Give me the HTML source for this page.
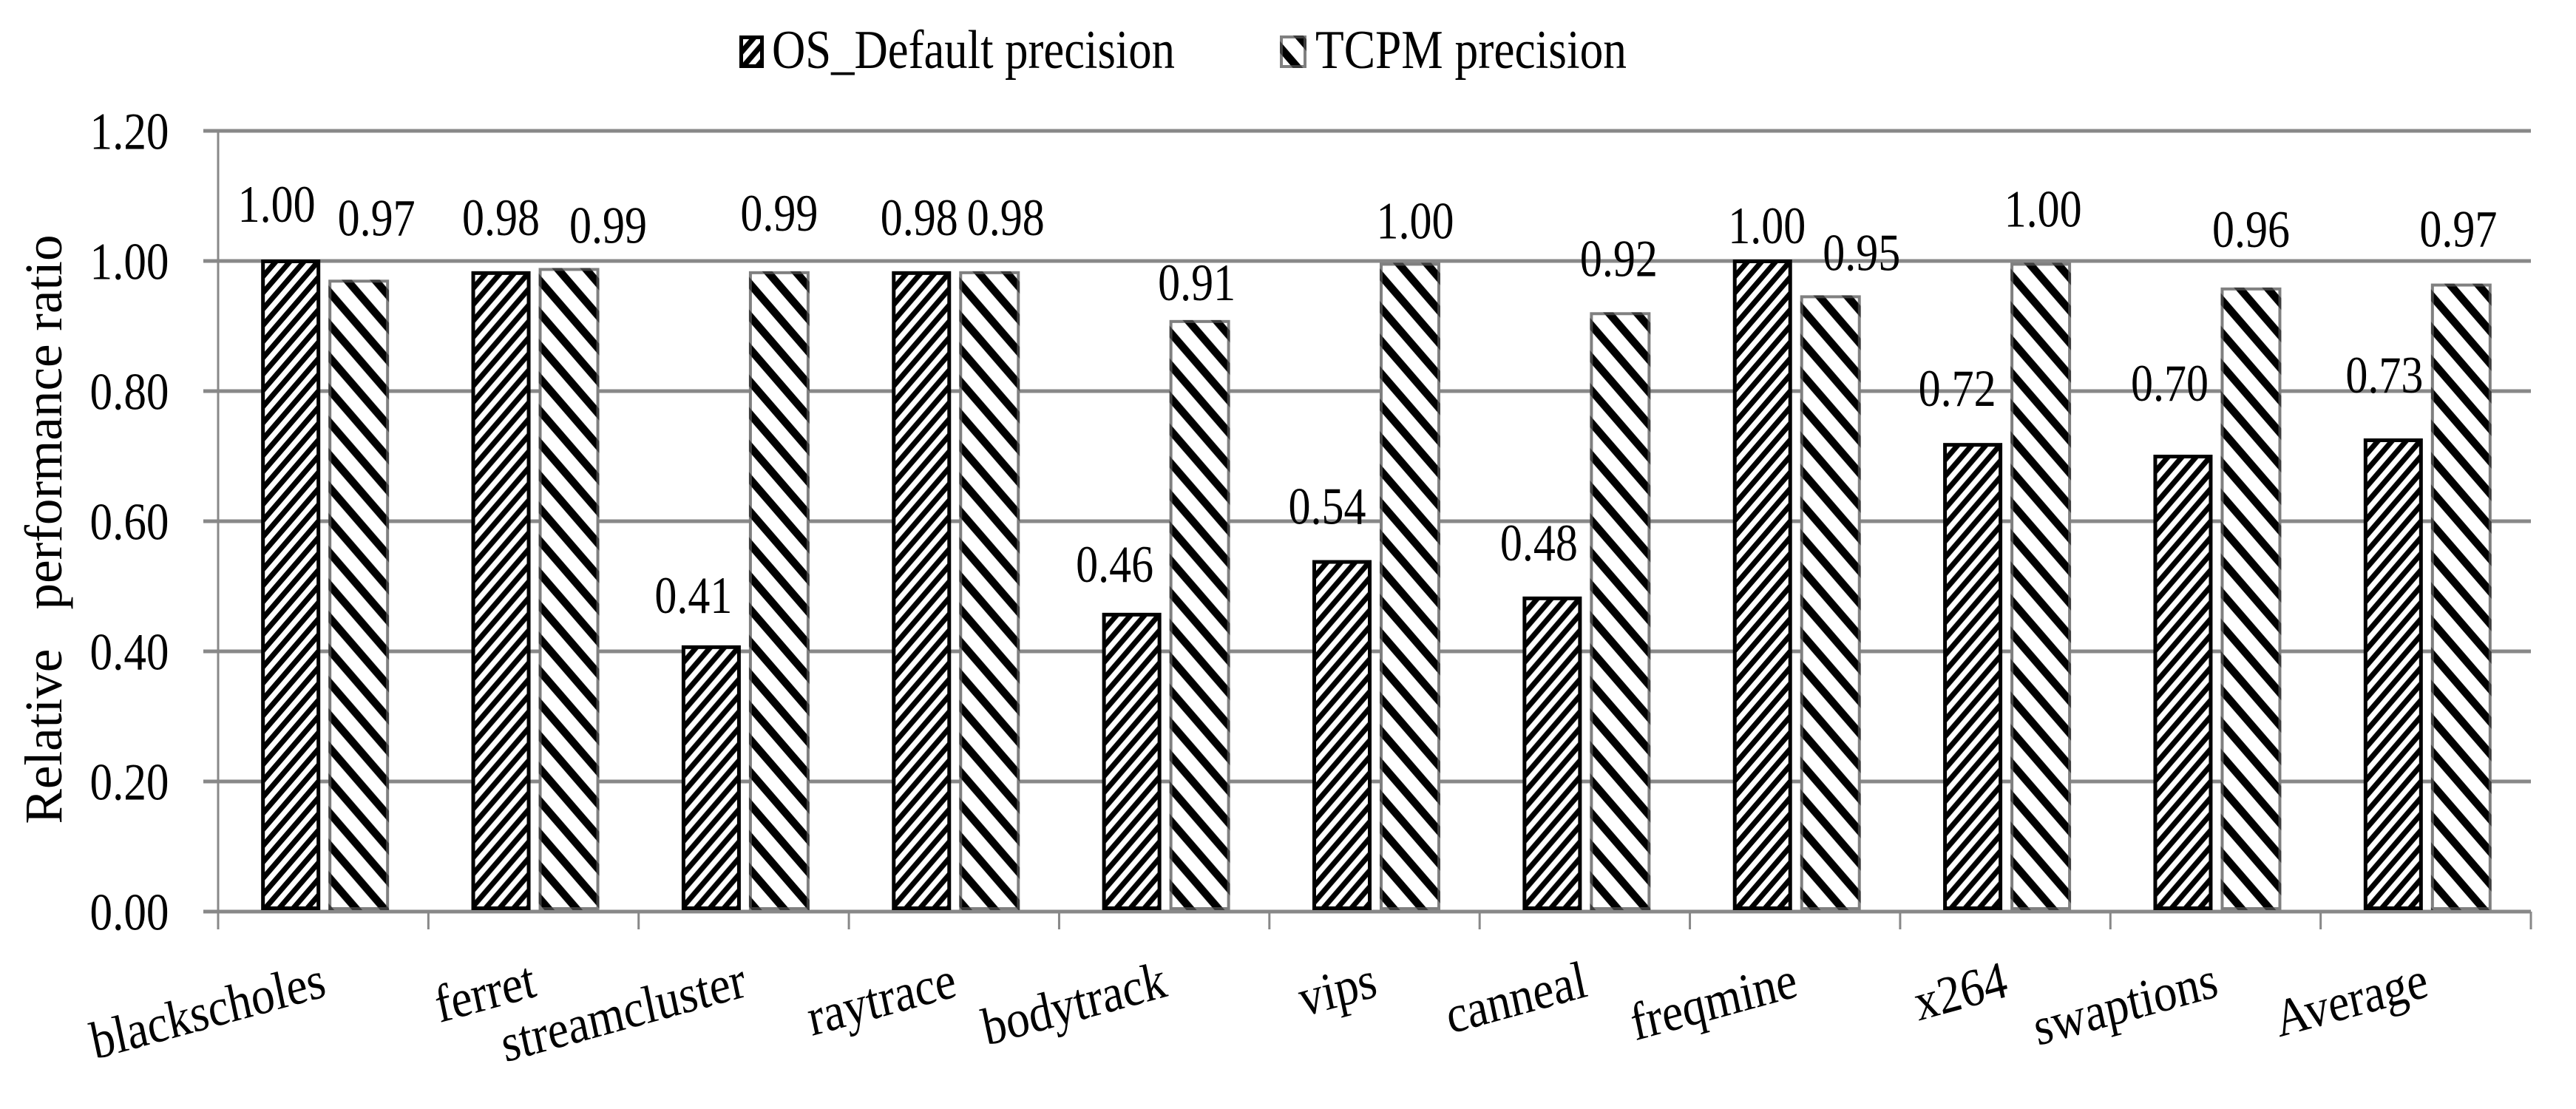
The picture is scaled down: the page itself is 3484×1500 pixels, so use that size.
<!DOCTYPE html>
<html lang="en">
<head>
<meta charset="utf-8">
<title>Relative performance ratio chart</title>
<style>
  html, body { margin: 0; padding: 0; background: #fff; }
  svg { display: block; }
  text { font-family: "Liberation Serif", "Times New Roman", serif; fill: #000; white-space: pre; }
</style>
</head>
<body>
<svg id="chart" xmlns="http://www.w3.org/2000/svg" width="3484" height="1500" viewBox="0 0 3484 1500">
  <defs>
    <pattern id="osFill" patternUnits="userSpaceOnUse" width="19" height="22" patternTransform="translate(12.8 0)">
      <rect width="19" height="22" fill="#000"/>
      <path d="M-19 22L19 -22M0 22L19 0M0 22L38 -22M0 44L38 0" stroke="#fff" stroke-width="7.2" fill="none"/>
    </pattern>
    <pattern id="tcpmFill" patternUnits="userSpaceOnUse" width="38" height="44" patternTransform="translate(24.6 0)">
      <rect width="38" height="44" fill="#fff"/>
      <path d="M-38 -44L76 88M-38 0L38 88M0 -44L76 44" stroke="#000" stroke-width="10.5" fill="none"/>
    </pattern>
    <pattern id="tcpmEdge" patternUnits="userSpaceOnUse" width="38" height="44" patternTransform="translate(24.6 0)">
      <rect width="38" height="44" fill="#808080"/>
      <path d="M-38 -44L76 88M-38 0L38 88M0 -44L76 44" stroke="#3c3c3c" stroke-width="10.5" fill="none"/>
    </pattern>
  </defs>
  <g id="grid"></g>
  <g id="bars"></g>
  <g id="labels"></g>

  <g>
    <g>
      <g transform="translate(1000 48)">
        <rect x="2.5" y="2.5" width="28" height="39" fill="url(#osFill)" stroke="#000" stroke-width="5"/>
      </g>
      <text x="1044" y="92" font-size="74" textLength="545" lengthAdjust="spacingAndGlyphs">OS_Default precision</text>
    </g>
    <g>
      <g transform="translate(1731 48)">
        <rect x="2" y="2" width="32" height="40" fill="url(#tcpmFill)" stroke="url(#tcpmEdge)" stroke-width="4"/>
      </g>
      <text x="1779" y="92" font-size="74" textLength="421" lengthAdjust="spacingAndGlyphs">TCPM precision</text>
    </g>
  </g>

  <text transform="translate(83 716) rotate(-90)" text-anchor="middle" font-size="72" textLength="797" lengthAdjust="spacingAndGlyphs">Relative   performance ratio</text>
</svg>
<script>
// ----- chart data -----
const categories = ['blackscholes', 'ferret', 'streamcluster', 'raytrace', 'bodytrack', 'vips', 'canneal', 'freqmine', 'x264', 'swaptions', 'Average'];
const osDefaultValues = [1.00, 0.982, 0.407, 0.982, 0.457, 0.538, 0.482, 1.00, 0.718, 0.700, 0.725];
const tcpmValues = [0.969, 0.987, 0.982, 0.982, 0.907, 0.995, 0.919, 0.945, 0.995, 0.957, 0.963];
const osDefaultPrinted = ['1.00', '0.98', '0.41', '0.98', '0.46', '0.54', '0.48', '1.00', '0.72', '0.70', '0.73'];
const tcpmPrinted = ['0.97', '0.99', '0.99', '0.98', '0.91', '1.00', '0.92', '0.95', '1.00', '0.96', '0.97'];
const yTickValues = [0, 0.2, 0.4, 0.6, 0.8, 1.0, 1.2];
const yTickLabels = ['0.00', '0.20', '0.40', '0.60', '0.80', '1.00', '1.20'];

(function () {
  const NS = 'http://www.w3.org/2000/svg';
  const plot = { left: 295, right: 3423, top: 177, bottom: 1233, max: 1.2 };
  const yScale = function (v) { return plot.bottom - (v / plot.max) * (plot.bottom - plot.top); };
  const bandWidth = (plot.right - plot.left) / categories.length;
  const bandLeft = function (i) { return plot.left + bandWidth * i; };
  const bandCentre = function (i) { return bandLeft(i) + bandWidth / 2; };

  // Hand-placed data label offsets from each bar's centre/top, as in the source figure.
  const osLabelDx = [-19, 0, -24, -3, -23, -20, -18, 6, -21, -18, -12];
  const osLabelDy = [-51, -49, -44, -49, -42, -49, -49, -22, -50, -73, -62];
  const tcpmLabelDx = [24, 53, 0, 22, -4, 7, -2, 42, 3, 0, -4];
  const tcpmLabelDy = [-60, -34, -55, -49, -27, -33, -49, -34, -49, -55, -50];

  const grid = document.getElementById('grid');
  const bars = document.getElementById('bars');
  const labels = document.getElementById('labels');

  // gridlines and y tick labels
  yTickValues.forEach(function (v, i) {
    const line = document.createElementNS(NS, 'rect');
    
    
    line.setAttribute('x', 275);
    line.setAttribute('y', yScale(v) - 2.5);
    line.setAttribute('width', plot.right - 275);
    line.setAttribute('height', 5);
    line.setAttribute('fill', '#888888');
    grid.appendChild(line);

    const tick = document.createElementNS(NS, 'text');
    
    
    tick.setAttribute('x', 175);
    tick.setAttribute('y', yScale(v) + 24.5);
    tick.setAttribute('text-anchor', 'middle');
    tick.setAttribute('font-size', '71');
    tick.setAttribute('textLength', '107');
    tick.setAttribute('lengthAdjust', 'spacingAndGlyphs');
    tick.textContent = yTickLabels[i];
    labels.appendChild(tick);
  });

  // y axis line
  const yAxis = document.createElementNS(NS, 'rect');
  
  
  yAxis.setAttribute('x', plot.left - 1.5);
  yAxis.setAttribute('y', plot.top);
  yAxis.setAttribute('width', 3);
  yAxis.setAttribute('height', 1257 - plot.top);
  yAxis.setAttribute('fill', '#888888');
  grid.appendChild(yAxis);

  // x ticks
  categories.forEach(function (c, i) {
    const t = document.createElementNS(NS, 'rect');
    
    
    t.setAttribute('x', bandLeft(i + 1) - 1.5);
    t.setAttribute('y', plot.bottom);
    t.setAttribute('width', 3);
    t.setAttribute('height', 24);
    t.setAttribute('fill', '#888888');
    grid.appendChild(t);
  });

  function drawBar(i, v, offset, fill, edge, edgeWidth, width) {
    const left = bandCentre(i) + offset;
    const top = yScale(v) - 2;
    const h = plot.bottom - 2 - top;
    const g = document.createElementNS(NS, 'g');
    g.setAttribute('transform', 'translate(' + left + ' ' + top + ')');
    const r = document.createElementNS(NS, 'rect');
    r.setAttribute('x', edgeWidth / 2);
    r.setAttribute('y', edgeWidth / 2);
    r.setAttribute('width', width - edgeWidth);
    r.setAttribute('height', Math.max(0, h - edgeWidth));
    r.setAttribute('fill', fill);
    r.setAttribute('stroke', edge);
    r.setAttribute('stroke-width', edgeWidth);
    g.appendChild(r);
    bars.appendChild(g);
    return g;
  }

  function drawValueLabel(text, cx, topY) {
    const el = document.createElementNS(NS, 'text');
    el.setAttribute('x', cx);
    el.setAttribute('y', topY);
    el.setAttribute('text-anchor', 'middle');
    el.setAttribute('font-size', '71');
    el.setAttribute('textLength', '105');
    el.setAttribute('lengthAdjust', 'spacingAndGlyphs');
    el.textContent = text;
    labels.appendChild(el);
    return el;
  }

  categories.forEach(function (name, i) {
    const osBar = drawBar(i, osDefaultValues[i], -84, 'url(#osFill)', '#000', 5, 80);
    
    

    const tcpmBar = drawBar(i, tcpmValues[i], 7, 'url(#tcpmFill)', 'url(#tcpmEdge)', 4, 82);
    
    

    const osLabel = drawValueLabel(osDefaultPrinted[i], bandCentre(i) - 44 + osLabelDx[i], yScale(osDefaultValues[i]) - 2 + osLabelDy[i]);
    
    

    const tcpmLabel = drawValueLabel(tcpmPrinted[i], bandCentre(i) + 48 + tcpmLabelDx[i], yScale(tcpmValues[i]) - 2 + tcpmLabelDy[i]);
    
    

    const cat = document.createElementNS(NS, 'text');
    
    
    cat.setAttribute('transform', 'translate(' + (bandCentre(i) + 6) + ' 1347) scale(0.88 1) rotate(-13.5)');
    cat.setAttribute('text-anchor', 'end');
    cat.setAttribute('font-size', '72');
    cat.textContent = name;
    labels.appendChild(cat);
  });
})();
</script>
</body>
</html>
